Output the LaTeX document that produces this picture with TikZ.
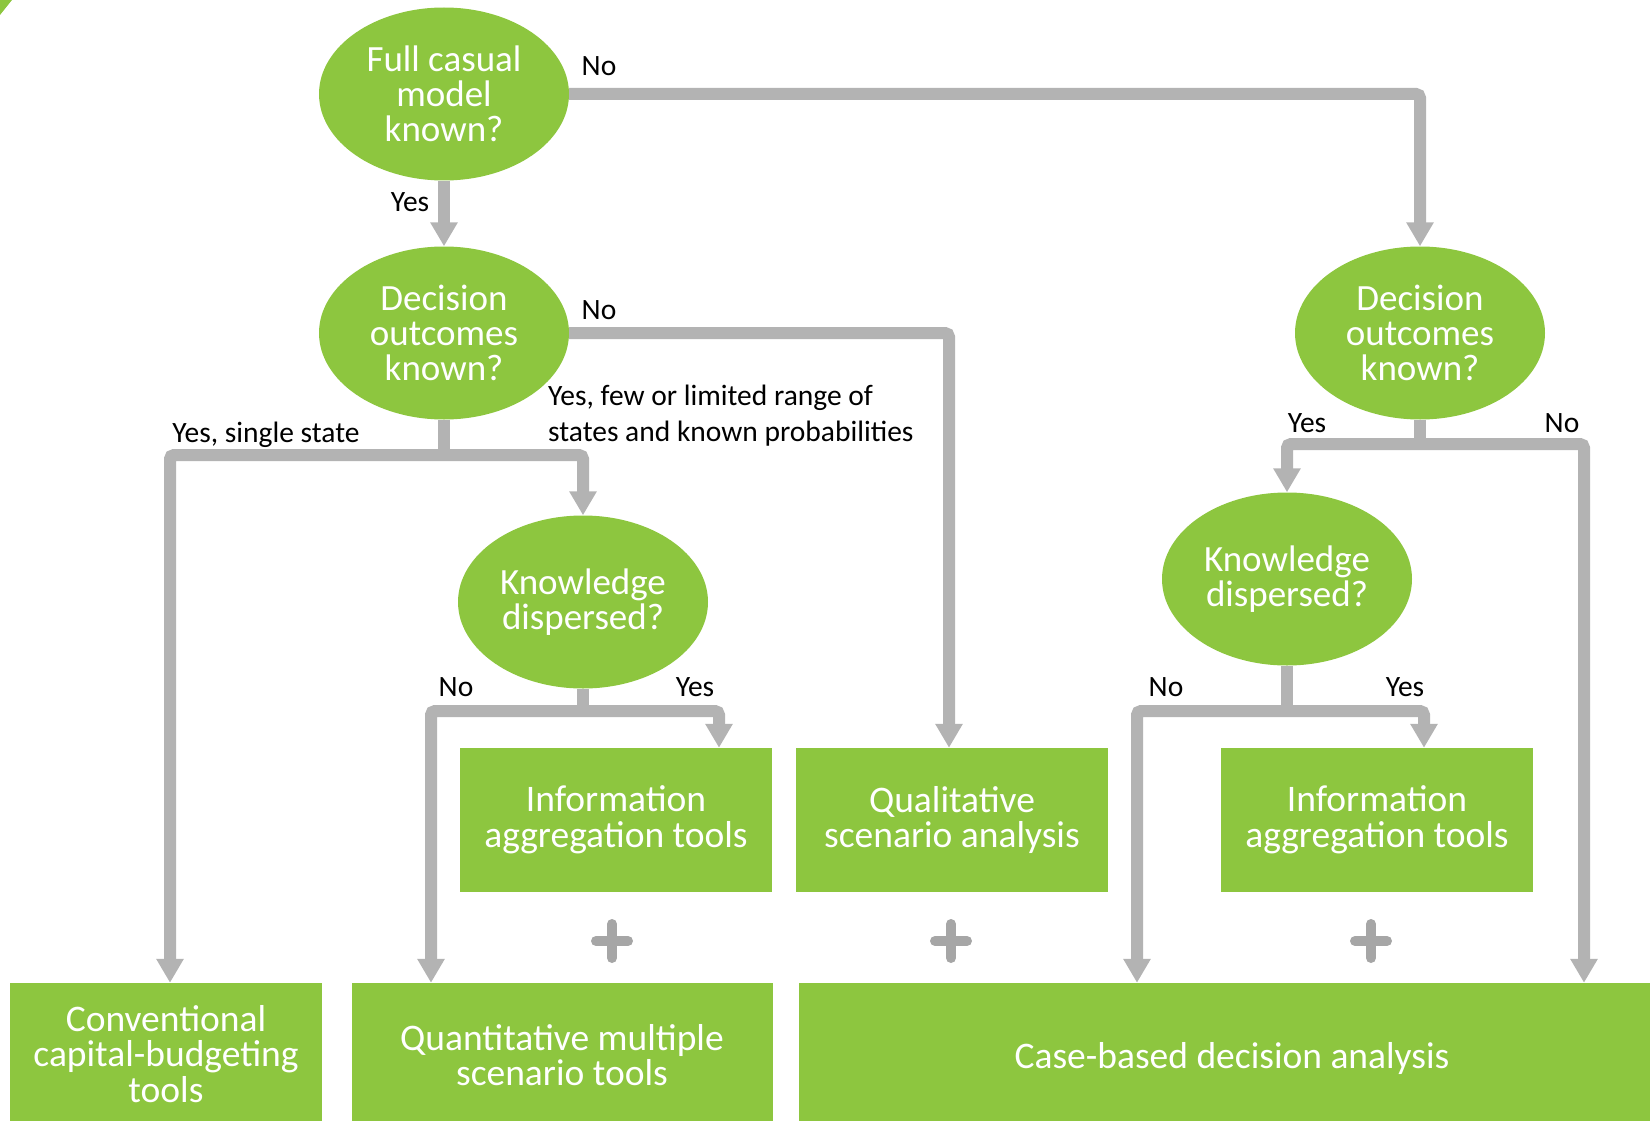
\documentclass[tikz,border=0pt]{standalone}
\usepackage{fontspec}
\setmainfont{Carlito}
\usepackage{xcolor}
\usepackage{tikz}
\usetikzlibrary{positioning,shapes.geometric,arrows.meta}

\definecolor{leaf}{HTML}{8DC63F}
\definecolor{wire}{HTML}{B3B3B3}
\definecolor{plusgrey}{HTML}{A6A6A6}

\begin{document}
\begin{tikzpicture}[x=1pt,y=-1pt,
  question/.style={ellipse,fill=leaf,text=white,minimum width=250pt,minimum height=173pt,inner sep=0pt,align=center,font=\fontsize{37}{35}\selectfont},
  tool/.style={rectangle,fill=leaf,text=white,inner sep=0pt,align=center,font=\fontsize{37.5}{35.5}\selectfont},
  answer/.style={inner sep=0pt,font=\fontsize{29.5}{36}\selectfont},
  pipe/.style={wire,line width=12pt,rounded corners=4pt},
  flow/.style={pipe,-{Triangle[width=26pt,length=24pt]}}]
\useasboundingbox (0,0) rectangle (1650,1121);

\fill [leaf] (0,0) -- (12,0) -- (0,15) -- cycle;

% questions
\node [question] (full) at (444,94) {Full casual\\model\\known?};
\node [question] (outL) at (444,333) {Decision\\outcomes\\known?};
\node [question] (outR) at (1420,333) {Decision\\outcomes\\known?};
\node [question] (knowL) at (583,602) {Knowledge\\dispersed?};
\node [question] (knowR) at (1287,579) {Knowledge\\dispersed?};

% tools
\node [tool,minimum width=312pt,minimum height=144pt] (infoL) at (616,820) {Information\\aggregation tools};
\node [tool,minimum width=312pt,minimum height=144pt] (qual) at (952,820) {Qualitative\\scenario analysis};
\node [tool,minimum width=312pt,minimum height=144pt] (infoR) at (1377,820) {Information\\aggregation tools};
\node [tool,minimum width=312pt,minimum height=142pt] (conv) at (166,1054) {Conventional\\capital-budgeting\\tools};
\node [tool,minimum width=421pt,minimum height=144pt] (quant) at (562,1055) {Quantitative multiple\\scenario tools};
\node [tool,minimum width=866pt,minimum height=150pt] (case) at (1232,1058) {Case-based decision analysis};

\foreach \px in {612,951,1371}
{
\draw [plusgrey,line width=10pt,line cap=round] (\px-16,941) -- (\px+16,941);
\draw [plusgrey,line width=10pt,line cap=round] (\px,924) -- (\px,958);
}

% branch points
\coordinate (splitL) at (444,455);
\coordinate (splitK) at (583,711);
\coordinate (splitR) at (1420,444);
\coordinate (splitKR) at (1287,711);

\draw [flow] (full.east) -| (outR.north);
\draw [flow] (full.south) -- (outL.north);
\draw [flow] (outL.east) -| (949,0 |- qual.north);
\draw [pipe] (outL.south) -- (splitL);
\draw [flow] (splitL) -| (170,0 |- conv.north);
\draw [flow] (splitL) -| (knowL.north);
\draw [pipe] (knowL.south) -- (splitK);
\draw [flow] (splitK) -| (431,0 |- quant.north);
\draw [flow] (splitK) -| (719,0 |- infoL.north);
\draw [pipe] (outR.south) -- (splitR);
\draw [flow] (splitR) -| (knowR.north);
\draw [flow] (splitR) -| (1584,0 |- case.north);
\draw [pipe] (knowR.south) -- (splitKR);
\draw [flow] (splitKR) -| (1137,0 |- case.north);
\draw [flow] (splitKR) -| (1424,0 |- infoR.north);

% answers
\node [answer] (noA) at (599,66) {No};
\node [answer] (yesA) at (410,202) {Yes};
\node [answer] (noB) at (599,310) {No};
\node [answer] (yesB) at (266,435) {Yes, single state};
\node [answer,anchor=west,align=left] (yesC) at (548,416) {Yes, few or limited range of\\states and known probabilities};
\node [answer] (noC) at (456,687) {No};
\node [answer] (yesD) at (695,687) {Yes};
\node [answer] (yesE) at (1307,423) {Yes};
\node [answer] (noE) at (1562,423) {No};
\node [answer] (noF) at (1166,687) {No};
\node [answer] (yesF) at (1405,687) {Yes};
\end{tikzpicture}
\end{document}
